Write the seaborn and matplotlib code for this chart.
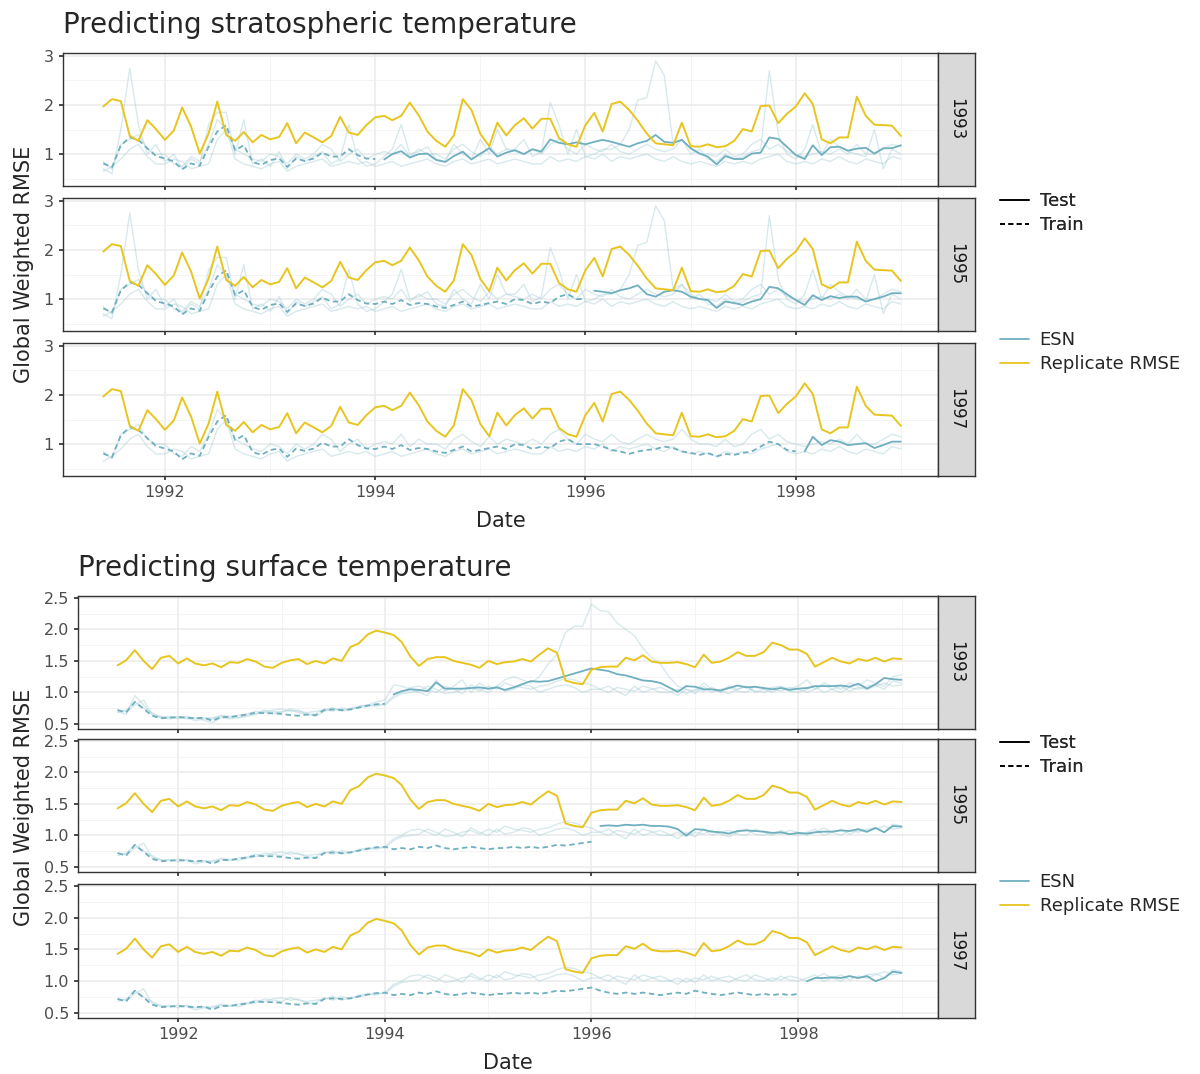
import numpy as np
import pandas as pd
import matplotlib
matplotlib.use("Agg")
import matplotlib.pyplot as plt
import matplotlib.dates as mdates
from matplotlib.lines import Line2D
import seaborn as sns

sns.set_theme(style="white")
plt.rcParams['font.family'] = ['DejaVu Sans']

dates = pd.date_range("1991-06-01", periods=92, freq="MS")
facets = ["1993", "1995", "1997"]
cut_idx = {"1993": 31, "1995": 55, "1997": 79}  # last train index

# ---- Stratospheric ----
strat_rep = [1.97,2.12,2.08,1.37,1.27,1.69,1.51,1.29,1.48,1.95,1.56,1.01,1.42,2.07,1.39,1.27,
             1.45,1.24,1.39,1.30,1.35,1.63,1.22,1.44,1.34,1.24,1.37,1.76,1.44,1.39,1.59,1.75,
             1.78,1.69,1.78,2.05,1.79,1.46,1.27,1.15,1.38,2.12,1.90,1.41,1.16,1.64,1.38,1.59,
             1.73,1.52,1.72,1.72,1.33,1.20,1.15,1.59,1.84,1.46,2.02,2.07,1.90,1.68,1.42,1.22,
             1.20,1.18,1.64,1.16,1.15,1.20,1.14,1.16,1.27,1.51,1.46,1.98,1.99,1.63,1.82,1.97,
             2.24,2.02,1.30,1.22,1.34,1.34,2.17,1.78,1.60,1.59,1.58,1.37]
strat_early = [0.81,0.73,1.18,1.34,1.29,1.12,0.96,0.91,0.85,0.69,0.81,0.76,1.15,1.46,1.59,1.08,
               1.18,0.84,0.78,0.88,0.91,0.74,0.91,0.86,0.91,1.03,0.95,0.95,1.10,0.98,0.91,0.90]
strat_1993_test = [0.89,1.00,1.06,0.93,1.00,1.01,0.88,0.84,0.96,1.05,0.89,1.01,1.12,0.95,1.03,
                   1.08,1.00,1.10,1.05,1.30,1.23,1.20,1.24,1.20,1.25,1.29,1.25,1.20,1.15,1.22,
                   1.27,1.39,1.25,1.23,1.29,1.12,1.01,0.95,0.79,0.96,0.90,0.90,1.01,1.03,1.34,
                   1.31,1.15,0.98,0.90,1.18,0.98,1.14,1.15,1.07,1.11,1.13,1.01,1.12,1.12,1.18]
strat_1995_mid = [0.95,0.90,0.98,0.88,0.92,0.90,0.85,0.82,0.88,0.95,0.85,0.88,0.92,0.95,0.90,1.00,
                  0.98,0.90,0.95,0.92,1.05,1.10,1.00,1.00]
strat_1995_test = [1.17,1.15,1.12,1.18,1.22,1.28,1.10,1.05,1.15,1.18,1.15,1.05,1.00,0.98,0.82,0.95,
                   0.92,0.88,0.95,1.00,1.25,1.22,1.10,0.98,0.88,1.08,0.98,1.06,1.02,1.05,1.05,0.95,
                   1.00,1.05,1.12,1.12]
strat_1997_mid = [1.00,0.95,0.88,0.85,0.80,0.85,0.88,0.90,0.95,0.92,0.85,0.82,0.78,0.82,0.75,0.80,
                  0.78,0.82,0.85,0.95,1.05,1.00,0.88,0.85]
strat_1997_test = [0.85,1.15,0.98,1.08,1.05,0.98,1.00,1.02,0.92,0.98,1.05,1.05]
strat_esn = {
    "1993": strat_early + strat_1993_test,
    "1995": strat_early + strat_1995_mid + strat_1995_test,
    "1997": strat_early + strat_1995_mid + strat_1997_mid + strat_1997_test,
}
strat_m1 = [0.7,0.6,1.5,2.75,1.6,1.0,1.2,0.85,1.0,0.7,0.9,0.8,1.6,1.85,1.85,1.0,
            1.7,0.8,0.9,0.75,1.05,0.7,0.95,0.85,0.95,1.05,0.8,0.9,1.6,0.9,0.75,0.8,
            0.95,1.1,1.6,1.0,1.05,1.15,0.9,0.85,1.2,1.0,0.9,1.3,1.0,1.5,1.1,1.1,
            1.3,0.95,1.05,2.05,1.6,1.0,1.5,0.95,1.0,1.1,1.1,1.2,1.5,2.1,2.15,2.9,
            2.6,1.2,1.3,1.0,1.1,0.9,0.85,1.0,0.9,0.95,1.05,1.1,2.7,1.4,1.0,0.9,
            1.1,1.6,1.0,1.3,1.15,1.05,1.0,0.95,1.5,0.7,1.1,1.0]
strat_m2 = [0.65,0.75,0.9,1.1,1.2,0.95,0.8,0.8,0.9,0.85,0.7,0.75,0.8,1.3,1.5,0.9,
            0.8,0.75,0.7,0.8,0.85,0.65,0.75,0.8,0.85,0.9,0.75,0.8,0.85,0.8,0.85,0.75,
            0.8,0.85,0.75,0.8,0.85,0.9,0.8,0.75,0.85,0.9,0.8,0.85,0.9,0.8,0.85,0.9,
            0.85,0.8,0.8,0.95,0.85,0.9,0.85,0.95,0.9,1.0,0.85,0.95,0.9,0.95,1.0,0.9,
            0.85,0.95,0.85,0.8,0.85,0.8,0.75,0.85,0.8,0.85,0.8,0.9,0.95,1.0,0.85,0.8,
            0.85,0.8,0.9,0.85,0.95,0.85,0.8,0.9,0.85,0.8,0.95,0.9]
strat_m3 = [0.85,0.7,1.2,1.3,1.4,1.1,1.0,1.0,0.8,0.75,0.95,0.85,1.2,1.7,1.5,1.1,
            1.0,0.9,0.85,1.0,0.95,0.8,1.0,0.9,1.0,1.2,1.1,0.85,1.0,1.1,0.9,1.0,
            1.05,1.0,1.2,0.95,1.1,1.0,1.0,0.9,1.1,1.2,1.05,0.95,1.15,1.0,1.1,1.05,
            1.0,1.1,1.0,1.2,1.3,1.1,1.0,1.2,1.1,1.05,1.2,1.05,1.0,1.1,1.2,1.1,
            1.05,1.1,1.3,1.1,1.0,1.0,0.95,1.1,0.95,1.0,1.2,1.3,1.1,1.2,1.05,1.0,
            0.95,1.0,1.05,1.0,1.1,1.0,1.2,1.0,1.0,1.1,1.2,1.15]

# ---- Surface ----
surf_rep = [1.43,1.51,1.67,1.50,1.37,1.55,1.58,1.46,1.54,1.46,1.43,1.46,1.40,1.48,1.47,1.53,
            1.49,1.41,1.39,1.47,1.51,1.53,1.45,1.50,1.46,1.54,1.50,1.72,1.78,1.92,1.98,1.95,
            1.91,1.80,1.57,1.42,1.53,1.56,1.56,1.50,1.47,1.44,1.39,1.50,1.45,1.48,1.49,1.53,
            1.49,1.60,1.70,1.63,1.19,1.15,1.13,1.36,1.40,1.41,1.41,1.55,1.51,1.59,1.49,1.47,
            1.47,1.48,1.45,1.40,1.60,1.47,1.49,1.55,1.64,1.58,1.58,1.64,1.79,1.75,1.68,1.68,
            1.61,1.41,1.48,1.55,1.49,1.46,1.53,1.50,1.55,1.49,1.54,1.53]
surf_early = [0.72,0.68,0.85,0.74,0.63,0.59,0.60,0.61,0.60,0.59,0.60,0.55,0.61,0.61,0.63,0.65,
              0.68,0.67,0.67,0.66,0.64,0.63,0.65,0.64,0.72,0.73,0.72,0.73,0.76,0.79,0.81,0.82]
surf_1993_test = [0.97,1.02,1.05,1.04,1.02,1.16,1.06,1.06,1.06,1.07,1.08,1.06,1.08,1.04,1.08,
                  1.13,1.18,1.17,1.18,1.22,1.26,1.30,1.34,1.38,1.36,1.34,1.29,1.27,1.23,1.19,
                  1.18,1.15,1.08,1.01,1.10,1.09,1.05,1.05,1.03,1.07,1.11,1.08,1.09,1.07,1.05,
                  1.07,1.04,1.06,1.07,1.10,1.10,1.10,1.11,1.09,1.14,1.06,1.13,1.23,1.21,1.20]
surf_1995_mid = [0.78,0.80,0.78,0.82,0.80,0.84,0.80,0.78,0.80,0.82,0.80,0.78,0.80,0.80,0.82,0.80,
                 0.82,0.80,0.82,0.85,0.84,0.86,0.88,0.90]
surf_1995_test = [1.15,1.16,1.15,1.17,1.16,1.17,1.15,1.15,1.14,1.10,1.00,1.10,1.09,1.06,1.05,1.03,
                  1.07,1.08,1.07,1.06,1.04,1.05,1.02,1.04,1.03,1.05,1.06,1.06,1.08,1.07,1.10,1.06,
                  1.12,1.05,1.15,1.14]
surf_1997_mid = [0.85,0.82,0.80,0.82,0.80,0.82,0.80,0.78,0.80,0.82,0.80,0.85,0.82,0.80,0.78,0.80,
                 0.82,0.80,0.78,0.80,0.78,0.80,0.78,0.80]
surf_1997_test = [1.00,1.05,1.05,1.06,1.05,1.08,1.05,1.08,1.00,1.05,1.15,1.13]
surf_esn = {
    "1993": surf_early + surf_1993_test,
    "1995": surf_early + surf_1995_mid + surf_1995_test,
    "1997": surf_early + surf_1995_mid + surf_1997_mid + surf_1997_test,
}
surf_m1 = [0.7,0.65,0.95,0.8,0.65,0.6,0.58,0.6,0.58,0.6,0.56,0.52,0.6,0.58,0.6,0.62,
           0.65,0.7,0.66,0.7,0.72,0.68,0.65,0.62,0.7,0.74,0.72,0.75,0.78,0.8,0.85,0.88,
           1.12,1.1,1.05,1.0,0.95,1.2,1.02,1.1,1.2,1.0,1.15,1.05,1.1,1.2,1.25,1.2,
           1.15,1.25,1.45,1.6,1.95,2.05,2.05,2.4,2.3,2.28,2.1,2.0,1.9,1.7,1.55,1.45,
           1.25,1.1,1.05,1.02,1.15,1.05,1.0,1.1,1.05,1.1,1.0,1.05,1.08,1.1,1.05,1.1,
           1.2,1.05,1.15,1.1,1.05,1.15,1.1,1.2,1.15,1.1,1.25,1.28]
surf_m2 = [0.72,0.7,0.8,0.88,0.65,0.62,0.6,0.62,0.6,0.55,0.58,0.6,0.62,0.6,0.64,0.66,
           0.7,0.68,0.72,0.74,0.7,0.72,0.65,0.66,0.74,0.7,0.76,0.72,0.78,0.8,0.78,0.82,
           0.95,1.0,1.08,1.1,1.05,1.0,1.1,1.05,0.98,1.12,1.05,1.0,1.1,1.02,1.05,1.12,
           1.1,1.0,1.05,1.1,1.12,1.08,1.0,1.05,1.05,1.1,1.02,0.95,1.1,1.0,1.05,1.08,
           1.02,0.95,1.05,0.98,1.1,1.0,1.05,1.08,1.02,1.0,1.1,1.05,1.0,1.08,1.02,1.0,
           1.05,1.1,1.0,1.05,1.1,1.02,1.08,1.05,1.1,1.15,1.1,1.12]
surf_m3 = [0.68,0.72,0.85,0.75,0.68,0.6,0.62,0.58,0.62,0.58,0.6,0.58,0.64,0.62,0.6,0.64,
           0.66,0.72,0.7,0.68,0.74,0.7,0.68,0.7,0.72,0.76,0.7,0.74,0.76,0.78,0.82,0.8,
           0.92,0.98,1.0,1.02,1.1,1.05,0.98,1.0,1.05,1.08,1.02,1.1,1.05,1.15,1.1,1.08,
           1.05,1.1,1.12,1.18,1.22,1.2,1.15,1.12,1.05,1.0,1.08,1.05,1.02,1.1,1.06,1.0,
           1.0,1.05,0.98,1.05,1.02,1.08,1.02,0.98,1.05,1.1,1.02,1.0,1.05,1.02,1.08,1.05,
           1.0,1.05,1.12,1.05,1.0,1.08,1.05,1.1,1.12,1.05,1.18,1.15]

strat_members = {"1993": [strat_m1, strat_m2, strat_m3], "1995": [strat_m1, strat_m2, strat_m3],
                 "1997": [strat_m2, strat_m3]}
surf_members = {"1993": [surf_m1, surf_m2, surf_m3], "1995": [surf_m2, surf_m3], "1997": [surf_m2, surf_m3]}

ESN_C = "#6FAFC0"
MEM_C = "#A9CFD9"
REP_C = "#E8C51E"
W, H = 1200, 1074
fig = plt.figure(figsize=(12, 10.74), dpi=100)

def fx(px): return px / W
def fy(py): return 1 - py / H

def section(x0, x1, rows, rep, esn, members, ylim, yticks, yminor, ytlabels, title, title_x, title_y, xlab_y, ylab_x):
    x_lo = pd.Timestamp("1991-01-12"); x_hi = pd.Timestamp("1999-05-10")
    for (t, b), fac in zip(rows, facets):
        ax = fig.add_axes([fx(x0), fy(b), fx(x1) - fx(x0), (b - t) / H])
        for m in members[fac]:
            sns.lineplot(x=dates, y=m, ax=ax, color=MEM_C, alpha=0.45, lw=1.0, legend=False)
        c = cut_idx[fac]
        e = esn[fac]
        sns.lineplot(x=dates[:c + 1], y=e[:c + 1], ax=ax, color=ESN_C, lw=1.3, linestyle=(0, (3, 2)), legend=False)
        sns.lineplot(x=dates[c + 1:], y=e[c + 1:], ax=ax, color=ESN_C, lw=1.3, legend=False)
        sns.lineplot(x=dates, y=rep, ax=ax, color=REP_C, lw=1.4, legend=False)
        ax.set_xlim(x_lo, x_hi); ax.set_ylim(*ylim)
        ax.set_yticks(yticks); ax.set_yticklabels(ytlabels)
        ax.set_yticks(yminor, minor=True)
        ax.xaxis.set_major_locator(mdates.YearLocator(2, month=1, day=1))
        ax.xaxis.set_minor_locator(mdates.YearLocator(1, month=1, day=1))
        ax.xaxis.set_major_formatter(mdates.DateFormatter("%Y"))
        ax.grid(True, which="major", color="#EBEBEB", lw=1.1)
        ax.grid(True, which="minor", color="#F2F2F2", lw=0.6)
        ax.set_axisbelow(True)
        for s in ax.spines.values():
            s.set_color("#333333"); s.set_linewidth(1.0)
        ax.tick_params(axis="both", which="major", length=3, color="#333333", labelsize=11.5, labelcolor="#4D4D4D", left=True, bottom=True)
        ax.tick_params(which="minor", length=0)
        ax.set_xlabel(""); ax.set_ylabel("")
        if fac != "1997":
            ax.tick_params(labelbottom=False)
        sax = fig.add_axes([fx(x1), fy(b), fx(975) - fx(x1), (b - t) / H])
        sax.set_facecolor("#D9D9D9")
        sax.set_xticks([]); sax.set_yticks([])
        for s in sax.spines.values():
            s.set_color("#333333"); s.set_linewidth(1.0)
        sax.text(0.5, 0.5, fac, rotation=-90, ha="center", va="center", fontsize=12, color="#1A1A1A", transform=sax.transAxes)
    fig.text(fx(title_x), fy(title_y), title, fontsize=20, ha="left", va="center")
    fig.text((fx(x0) + fx(x1)) / 2, fy(xlab_y), "Date", fontsize=15, ha="center", va="center")
    fig.text(fx(ylab_x), (fy(rows[0][0]) + fy(rows[-1][1])) / 2, "Global Weighted RMSE", fontsize=15, rotation=90, ha="center", va="center")

section(63, 938, [(53, 186), (198, 331), (343, 476)], strat_rep, strat_esn, strat_members,
        (0.35, 3.06), [1, 2, 3], [0.5, 1.5, 2.5], ["1", "2", "3"],
        "Predicting stratospheric temperature", 63, 25, 521, 24)
section(78, 938, [(596, 729), (739, 872), (884, 1018)], surf_rep, surf_esn, surf_members,
        (0.42, 2.53), [0.5, 1.0, 1.5, 2.0, 2.5], [0.75, 1.25, 1.75, 2.25], ["0.5", "1.0", "1.5", "2.0", "2.5"],
        "Predicting surface temperature", 78, 568, 1063, 24)

def legends(ytop, ybot):
    h1 = [Line2D([], [], color="black", lw=1.2, linestyle="-"),
          Line2D([], [], color="black", lw=1.2, linestyle=(0, (3, 2)))]
    l1 = fig.legend(h1, ["Test", "Train"], loc="center left", bbox_to_anchor=(fx(1000), fy(ytop)),
                    frameon=False, fontsize=13, handlelength=1.6, handletextpad=0.6,
                    labelspacing=0.35, borderaxespad=0, borderpad=0)
    h2 = [Line2D([], [], color=ESN_C, lw=1.3), Line2D([], [], color=REP_C, lw=1.3)]
    fig.legend(h2, ["ESN", "Replicate RMSE"], loc="center left", bbox_to_anchor=(fx(1000), fy(ybot)),
               frameon=False, fontsize=13, handlelength=1.6, handletextpad=0.6,
               labelspacing=0.35, borderaxespad=0, borderpad=0)
    fig.add_artist(l1)

legends(213, 352)
legends(755, 894)

fig.savefig("out.png", dpi=100)
